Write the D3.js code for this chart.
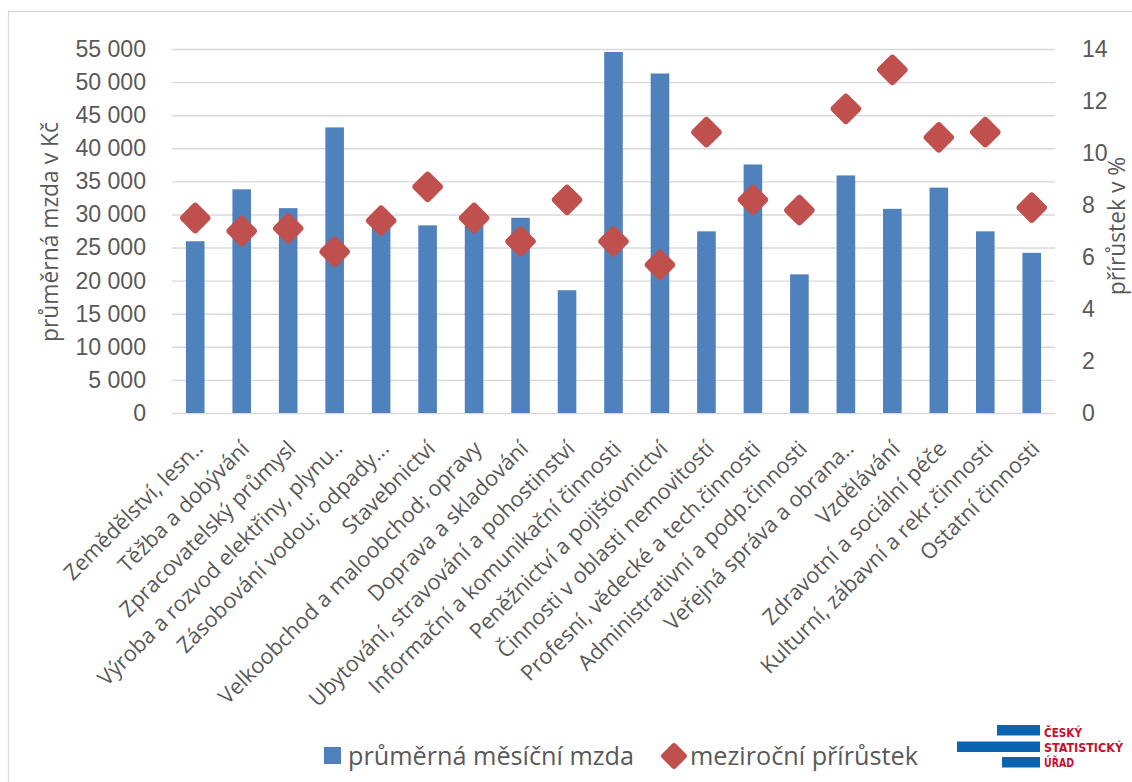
<!DOCTYPE html>
<html>
<head>
<meta charset="utf-8">
<style>
  body { margin: 0; background: #fff; }
  svg { font-family: "Open Sans", sans-serif; }
</style>
</head>
<body>
<svg id="chart" width="1132" height="782"></svg>
<script src="https://cdn.jsdelivr.net/npm/d3@7"></script>
<script>
// values
const categories = [
  "Zemědělství, lesn..",
  "Těžba a dobývání",
  "Zpracovatelský průmysl",
  "Výroba a rozvod elektřiny, plynu..",
  "Zásobování vodou; odpady...",
  "Stavebnictví",
  "Velkoobchod a maloobchod; opravy",
  "Doprava a skladování",
  "Ubytování, stravování a pohostinství",
  "Informační a komunikační činnosti",
  "Peněžnictví a pojišťovnictví",
  "Činnosti v oblasti nemovitostí",
  "Profesní, vědecké a tech.činnosti",
  "Administrativní a podp.činnosti",
  "Veřejná správa a obrana..",
  "Vzdělávání",
  "Zdravotní a sociální péče",
  "Kulturní, zábavní a rekr.činnosti",
  "Ostatní činnosti"
];
const wages = [25950, 33800, 30950, 43150, 28700, 28350, 28300, 29500, 18550,
               54550, 51300, 27450, 37550, 20950, 35900, 30850, 34050, 27450, 24200];
const growth = [7.5, 7.0, 7.1, 6.2, 7.4, 8.7, 7.5, 6.6, 8.2,
                6.6, 5.7, 10.8, 8.2, 7.8, 11.7, 13.2, 10.6, 10.8, 7.9];
const leftTicks = [0, 5000, 10000, 15000, 20000, 25000, 30000, 35000, 40000, 45000, 50000, 55000];
const rightTicks = [0, 2, 4, 6, 8, 10, 12, 14];
const legendLabels = ["průměrná měsíční mzda", "meziroční přírůstek"];

const svg = d3.select("#chart");
const plotLeft = 172, plotRight = 1055, plotTop = 49, plotBottom = 413;
const textColor = "#595959", gridColor = "#D9D9D9";
const barColor = "#4F81BD", diamondColor = "#C0504D";

// pick a font size so that a sample text gets the width seen in the reference
function fitSize(sample, width) {
  const t = svg.append("text").style("font-size", "20px").text(sample);
  const w = t.node().getComputedTextLength();
  t.remove();
  return 20 * width / w;
}
const tickSize = fitSize("55 000", 72);
const titleSize = fitSize("průměrná mzda v Kč", 220);
const catSize = fitSize("Ostatní činnosti", 158);
const legendSize = fitSize(legendLabels[1], 228);

// chart frame
svg.append("path")
    .attr("d", "M8.5,782 V11.5 H1132")
    .attr("fill", "none")
    .attr("stroke", gridColor)
    .attr("stroke-width", 1.3);

const x = d3.scaleBand()
    .domain(categories)
    .range([plotLeft, plotRight])
    .paddingInner(0.6)
    .paddingOuter(0.3);

const yLeft = d3.scaleLinear().domain([0, 55000]).range([plotBottom, plotTop]);
const yRight = d3.scaleLinear().domain([0, 14]).range([plotBottom, plotTop]);

const fmt = d3.formatLocale({ decimal: ",", thousands: " ", grouping: [3], currency: ["", " Kč"] }).format(",d");

// left axis with gridlines
const gLeft = svg.append("g")
    .attr("transform", `translate(${plotLeft},0)`)
    .call(d3.axisLeft(yLeft).tickValues(leftTicks).tickFormat(fmt)
        .tickSize(-(plotRight - plotLeft)).tickPadding(26));
gLeft.select(".domain").remove();
gLeft.selectAll(".tick line").attr("stroke", gridColor).attr("stroke-width", 1.4);
gLeft.selectAll(".tick text")
    .attr("fill", textColor)
    .style("font-size", tickSize + "px");

// right axis
const gRight = svg.append("g")
    .attr("transform", `translate(${plotRight},0)`)
    .call(d3.axisRight(yRight).tickValues(rightTicks).tickSize(0).tickPadding(27));
gRight.select(".domain").remove();
gRight.selectAll(".tick text")
    .attr("fill", textColor)
    .style("font-size", tickSize + "px");

// bars
svg.append("g")
  .selectAll("rect")
  .data(categories)
  .join("rect")
    .attr("x", d => x(d))
    .attr("width", x.bandwidth())
    .attr("y", (d, i) => yLeft(wages[i]))
    .attr("height", (d, i) => plotBottom - yLeft(wages[i]))
    .attr("fill", barColor);

// diamonds
const side = 23.5;
svg.append("g")
  .selectAll("rect")
  .data(categories)
  .join("rect")
    .attr("x", -side / 2)
    .attr("y", -side / 2)
    .attr("width", side)
    .attr("height", side)
    .attr("rx", 3.5)
    .attr("fill", diamondColor)
    .attr("transform", (d, i) =>
        `translate(${x(d) + x.bandwidth() / 2},${yRight(growth[i])}) rotate(45)`);

// category labels
svg.append("g")
  .selectAll("text")
  .data(categories)
  .join("text")
    .attr("transform", d => `translate(${x(d) + x.bandwidth() / 2 - 2},439) rotate(-45)`)
    .attr("text-anchor", "end")
    .attr("dy", "0.72em")
    .attr("fill", textColor)
    .style("font-size", catSize + "px")
    .text(d => d);

// axis titles
svg.append("text")
    .attr("transform", "translate(58,232) rotate(-90)")
    .attr("text-anchor", "middle")
    .attr("fill", textColor)
    .style("font-size", titleSize + "px")
    .text("průměrná mzda v Kč");

svg.append("text")
    .attr("transform", "translate(1125,226) rotate(-90)")
    .attr("text-anchor", "middle")
    .attr("fill", textColor)
    .style("font-size", titleSize + "px")
    .text("přírůstek v %");

// legend
const legend = svg.append("g");
legend.append("rect")
    .attr("x", 324).attr("y", 747).attr("width", 17).attr("height", 17)
    .attr("fill", barColor);
legend.append("text")
    .attr("x", 348).attr("y", 765)
    .attr("fill", textColor)
    .style("font-size", legendSize + "px")
    .text(legendLabels[0]);
legend.append("rect")
    .attr("x", -10).attr("y", -10).attr("width", 20).attr("height", 20)
    .attr("rx", 3)
    .attr("fill", diamondColor)
    .attr("transform", "translate(674,756) rotate(45)");
legend.append("text")
    .attr("x", 690).attr("y", 765)
    .attr("fill", textColor)
    .style("font-size", legendSize + "px")
    .text(legendLabels[1]);

// ČSÚ logo
const logo = svg.append("g");
const logoBlue = "#0A64B0", logoRed = "#C8102E";
[[997, 725], [957, 741.5], [1002, 757]].forEach(([lx, ly]) => {
  logo.append("rect")
      .attr("x", lx).attr("y", ly)
      .attr("width", 1040 - lx).attr("height", 10.5)
      .attr("fill", logoBlue);
});
[["ČESKÝ", 736.5, 38], ["STATISTICKÝ", 752, 79], ["ÚŘAD", 767, 30]].forEach(([t, ly, w]) => {
  logo.append("text")
      .attr("x", 1044).attr("y", ly)
      .attr("textLength", w)
      .attr("lengthAdjust", "spacingAndGlyphs")
      .attr("fill", logoRed)
      .style("font-family", "'Liberation Sans Narrow', 'DejaVu Sans Condensed', sans-serif")
      .style("font-weight", "bold")
      .style("font-size", "13px")
      .text(t);
});
</script>
</body>
</html>
